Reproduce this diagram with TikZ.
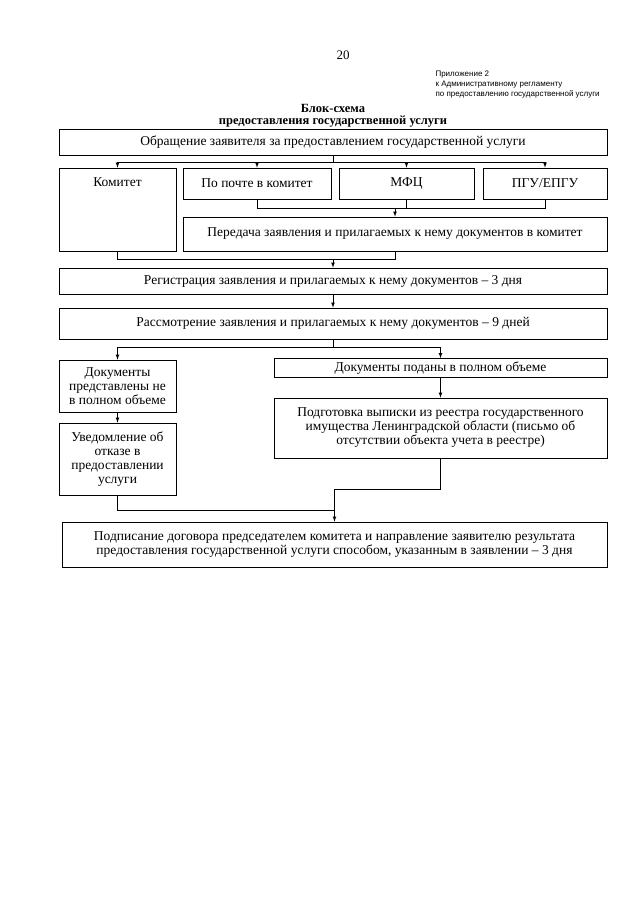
\documentclass[tikz,border=0pt]{standalone}
\usepackage{fontspec}
\setmainfont{Liberation Serif}
\newfontfamily\hdrfont{Liberation Sans}
\tikzset{
  box/.style={draw, line width=0.75pt, inner sep=0pt, align=center,
    font=\fontsize{13.5}{14}\selectfont},
  link/.style={line width=0.75pt},
  arr/.style={line width=0.75pt, -latex}
}
\begin{document}
\begin{tikzpicture}[x=1pt, y=-1pt]
        \useasboundingbox[fill=white] (0,0) rectangle (640,905);

        % Шапка
        \node[font=\fontsize{13}{14}\selectfont] (page) at (343,55) {20};
        \node[anchor=north west, align=left, font=\hdrfont\fontsize{8}{10}\selectfont] (pril) at (432,67)
            {Приложение 2\\к Административному регламенту\\по предоставлению государственной услуги};
        \node[align=center, font=\bfseries\fontsize{12.5}{12.5}\selectfont] (title) at (333,116)
            {Блок-схема\\предоставления государственной услуги};

        % Обращение и способы подачи
        \node[box, minimum width=548, minimum height=26] (obr) at (333,142)
            {Обращение заявителя за предоставлением государственной услуги};
        \node[box, minimum width=117, minimum height=83, text height=18pt, text depth=65pt] (kom) at (117.5,209.5) {Комитет};
        \node[box, minimum width=148, minimum height=31] (post) at (257,183.5) {По почте в комитет};
        \node[box, minimum width=135, minimum height=31] (mfc) at (406.5,183.5) {МФЦ};
        \node[box, minimum width=124, minimum height=31] (pgu) at (545,183.5) {ПГУ/ЕПГУ};
        \node[box, minimum width=424, minimum height=34] (per) at (395,234)
            {Передача заявления и прилагаемых к нему документов в комитет};

        % Регистрация и рассмотрение
        \node[box, minimum width=548, minimum height=26] (reg) at (333,281)
            {Регистрация заявления и прилагаемых к нему документов -- 3 дня};
        \node[box, minimum width=548, minimum height=31] (ras) at (333,323.5)
            {Рассмотрение заявления и прилагаемых к нему документов -- 9 дней};

        % Ветвление
        \node[box, minimum width=117, minimum height=52] (docne) at (117.5,386)
            {Документы\\представлены не\\в полном объеме};
        \node[box, minimum width=333, minimum height=19] (docok) at (440.5,368)
            {Документы поданы в полном объеме};
        \node[box, minimum width=117, minimum height=72] (uved) at (117.5,459)
            {Уведомление об\\отказе в\\предоставлении\\услуги};
        \node[box, minimum width=333, minimum height=60] (podg) at (440.5,428)
            {Подготовка выписки из реестра государственного\\имущества Ленинградской области (письмо об\\отсутствии объекта учета в реестре)};

        % Итог
        \node[box, minimum width=545, minimum height=45] (itog) at (334.5,544.5)
            {Подписание договора председателем комитета и направление заявителю результата\\предоставления государственной услуги способом, указанным в заявлении -- 3 дня};

        % Связи
        \coordinate (s1) at (333,162);
        \draw[link] (obr.south) -- (s1);
        \foreach \n in {kom,post,mfc,pgu}
            \draw[arr] (s1) -| (\n.north);

        \coordinate (m2) at (395,208);
        \foreach \n in {post,mfc,pgu}
            \draw[link] (\n.south) |- (m2);
        \draw[arr] (m2) -- (per.north);

        \coordinate (m3) at (333,259);
        \draw[link] (kom.south) |- (m3);
        \draw[link] (per.south) |- (m3);
        \draw[arr] (m3) -- (reg.north);

        \draw[arr] (reg) -- (ras);

        \coordinate (s5) at (333,347);
        \draw[link] (ras.south) -- (s5);
        \draw[arr] (s5) -| (docne.north);
        \draw[arr] (s5) -| (docok.north);

        \draw[arr] (docne) -- (uved);
        \draw[arr] (docok) -- (podg);

        \coordinate (m7a) at (334.5,489);
        \coordinate (m7b) at (334.5,510);
        \draw[link] (podg.south) |- (m7a);
        \draw[link] (uved.south) |- (m7b);
        \draw[arr] (m7a) -- (itog.north);
\end{tikzpicture}
\end{document}
